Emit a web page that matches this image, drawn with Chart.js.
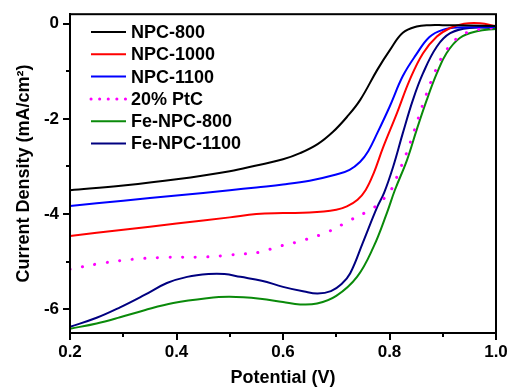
<!DOCTYPE html>
<html>
<head>
<meta charset="utf-8">
<script src="https://cdn.jsdelivr.net/npm/chart.js@4"></script>
<style>
  html, body { margin: 0; padding: 0; background: #fff; }
</style>
</head>
<body>
<canvas id="lsv" width="512" height="389"></canvas>
<script>
// LSV curves
var seriesNames = ["NPC-800", "NPC-1000", "NPC-1100", "20% PtC", "Fe-NPC-800", "Fe-NPC-1100"];

var npc800X = [0.2, 0.3, 0.4, 0.5, 0.55, 0.6, 0.632, 0.665, 0.694, 0.72, 0.745, 0.777, 0.801, 0.825, 0.851, 0.876, 0.9, 0.95, 1.0];
var npc800Y = [-3.5, -3.4, -3.27, -3.1, -2.98, -2.85, -2.72, -2.53, -2.27, -1.96, -1.6, -0.97, -0.55, -0.19, -0.06, -0.03, -0.03, -0.04, -0.05];

var npc1000X = [0.2, 0.3, 0.4, 0.5, 0.55, 0.6, 0.65, 0.7, 0.72, 0.74, 0.755, 0.77, 0.788, 0.814, 0.838, 0.863, 0.889, 0.914, 0.94, 0.97, 1.0];
var npc1000Y = [-4.46, -4.33, -4.2, -4.07, -4.0, -3.98, -3.97, -3.91, -3.84, -3.7, -3.5, -3.15, -2.6, -1.88, -1.18, -0.62, -0.27, -0.09, 0.0, 0.01, -0.05];

var npc1100X = [0.2, 0.3, 0.4, 0.5, 0.55, 0.6, 0.65, 0.7, 0.725, 0.745, 0.76, 0.777, 0.8, 0.825, 0.85, 0.875, 0.9, 0.93, 1.0];
var npc1100Y = [-3.83, -3.72, -3.61, -3.5, -3.44, -3.38, -3.3, -3.17, -3.07, -2.9, -2.68, -2.3, -1.75, -1.1, -0.65, -0.28, -0.13, -0.08, -0.07];

var ptcX = [0.2, 0.256, 0.319, 0.382, 0.457, 0.5, 0.557, 0.589, 0.632, 0.683, 0.726, 0.77, 0.788, 0.8, 0.82, 0.83, 0.845, 0.865, 0.884, 0.903, 0.93, 0.96, 1.0];
var ptcY = [-5.16, -5.04, -4.95, -4.91, -4.9, -4.86, -4.8, -4.69, -4.57, -4.38, -4.13, -3.87, -3.69, -3.56, -3.05, -2.78, -2.3, -1.62, -1.05, -0.62, -0.28, -0.14, -0.08];

var feNpc800X = [0.2, 0.25, 0.294, 0.34, 0.394, 0.457, 0.5, 0.557, 0.6, 0.632, 0.664, 0.7, 0.739, 0.77, 0.795, 0.81, 0.833, 0.851, 0.87, 0.889, 0.907, 0.932, 0.964, 1.0];
var feNpc800Y = [-6.41, -6.3, -6.17, -6.02, -5.87, -5.77, -5.74, -5.78, -5.85, -5.9, -5.88, -5.72, -5.32, -4.69, -3.98, -3.5, -2.86, -2.23, -1.6, -1.04, -0.62, -0.3, -0.16, -0.11];

var feNpc1100X = [0.2, 0.25, 0.294, 0.34, 0.382, 0.42, 0.46, 0.49, 0.52, 0.56, 0.6, 0.64, 0.665, 0.69, 0.71, 0.726, 0.75, 0.777, 0.79, 0.807, 0.825, 0.844, 0.863, 0.889, 0.914, 0.95, 1.0];
var feNpc1100Y = [-6.37, -6.18, -5.96, -5.7, -5.45, -5.32, -5.26, -5.26, -5.32, -5.4, -5.53, -5.63, -5.67, -5.62, -5.47, -5.25, -4.6, -3.85, -3.55, -3.0, -2.3, -1.6, -1.04, -0.48, -0.2, -0.09, -0.09];

var xTicks = [0.2, 0.4, 0.6, 0.8, 1.0];
var xMinorTicks = [0.3, 0.5, 0.7, 0.9];
var yTicks = [-6, -4, -2, 0];
var yMinorTicks = [-5, -3, -1];

var colors = ["#000000", "#ff0000", "#0000ff", "#ff00ff", "#0a8a0a", "#000080"];

function pts(xs, ys) {
  var out = [];
  for (var i = 0; i < xs.length; i++) out.push({x: xs[i], y: ys[i]});
  return out;
}

var allX = [npc800X, npc1000X, npc1100X, ptcX, feNpc800X, feNpc1100X];
var allY = [npc800Y, npc1000Y, npc1100Y, ptcY, feNpc800Y, feNpc1100Y];

var datasets = [];
for (var i = 0; i < seriesNames.length; i++) {
  datasets.push({
    label: seriesNames[i],
    data: pts(allX[i], allY[i]),
    borderColor: colors[i],
    borderWidth: i == 3 ? 3 : 2,
    borderDash: i == 3 ? [0.1, 12.5] : [],
    borderCapStyle: i == 3 ? 'round' : 'butt',
    pointRadius: 0,
    fill: false,
    tension: 0.4
  });
}

var FONT = '"Liberation Sans", Arial, sans-serif';

// frame, minor ticks and the in-plot legend
var decor = {
  id: 'decor',
  afterDraw: function(chart) {
    var c = chart.ctx, a = chart.chartArea;
    var sx = chart.scales.x, sy = chart.scales.y;
    c.save();
    c.strokeStyle = '#000';
    c.lineWidth = 2;
    c.strokeRect(a.left, a.top, a.right - a.left, a.bottom - a.top);
    c.beginPath();
    xMinorTicks.forEach(function(v) {
      var px = Math.round(sx.getPixelForValue(v));
      c.moveTo(px, a.bottom); c.lineTo(px, a.bottom + 4);
    });
    yMinorTicks.forEach(function(v) {
      var py = Math.round(sy.getPixelForValue(v));
      c.moveTo(a.left, py); c.lineTo(a.left - 4, py);
    });
    c.stroke();

    c.font = 'bold 18px ' + FONT;
    c.textBaseline = 'middle';
    c.fillStyle = '#000';
    for (var i = 0; i < seriesNames.length; i++) {
      var y = 32 + i * 22.3;
      c.beginPath();
      c.strokeStyle = colors[i];
      c.lineWidth = i == 3 ? 3 : 2;
      c.setLineDash(i == 3 ? [0.1, 8.5] : []);
      c.lineCap = i == 3 ? 'round' : 'butt';
      c.moveTo(91, y); c.lineTo(126, y);
      c.stroke();
      c.fillText(seriesNames[i], 131, y + 1);
    }
    c.restore();
  }
};

new Chart(document.getElementById('lsv'), {
  type: 'line',
  data: { datasets: datasets },
  plugins: [decor],
  options: {
    responsive: false,
    animation: false,
    layout: { padding: { top: 14, right: 16, left: 0, bottom: 0 } },
    plugins: { legend: { display: false }, tooltip: { enabled: false } },
    scales: {
      x: {
        type: 'linear',
        min: 0.2, max: 1.0,
        afterBuildTicks: function(s) { s.ticks = xTicks.map(function(v) { return {value: v}; }); },
        afterFit: function(s) { s.height = 56; },
        ticks: {
          color: '#000', padding: 2,
          font: { family: FONT, size: 17, weight: 'bold' },
          callback: function(v) { return Number(v).toFixed(1); }
        },
        grid: { drawOnChartArea: false, tickLength: 7, color: '#000', lineWidth: 2 },
        border: { color: '#000', width: 2 },
        title: {
          display: true, text: 'Potential (V)', color: '#000',
          font: { family: FONT, size: 18, weight: 'bold' },
          padding: { top: 0, bottom: 0 }
        }
      },
      y: {
        type: 'linear',
        min: -6.5, max: 0.2,
        afterBuildTicks: function(s) { s.ticks = yTicks.map(function(v) { return {value: v}; }); },
        afterFit: function(s) { s.width = 70; },
        ticks: {
          color: '#000', padding: 4,
          font: { family: FONT, size: 17, weight: 'bold' },
          callback: function(v) { return String(v); }
        },
        grid: { drawOnChartArea: false, tickLength: 7, color: '#000', lineWidth: 2 },
        border: { color: '#000', width: 2 },
        title: {
          display: true, text: 'Current Density (mA/cm²)', color: '#000',
          font: { family: FONT, size: 18, weight: 'bold' },
          padding: { top: 13, bottom: 0 }
        }
      }
    }
  }
});
</script>
</body>
</html>
